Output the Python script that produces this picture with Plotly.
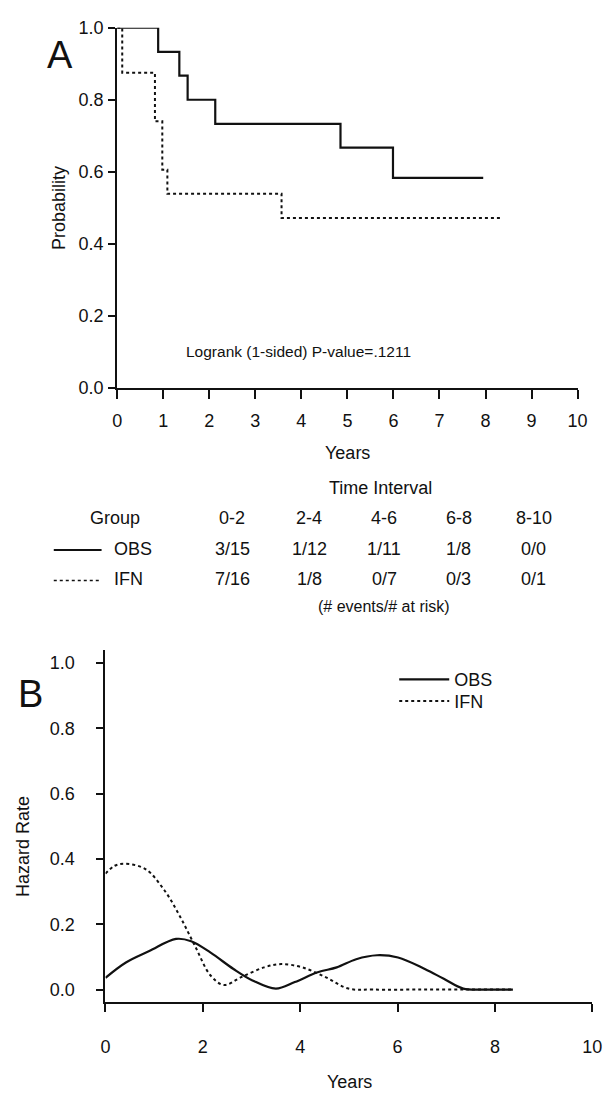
import plotly.graph_objects as go

W, H = 612, 1101

# ---------------- data ----------------
# Panel A: Kaplan-Meier estimates (step curves)
km_obs_t = [0, 0.89, 1.35, 1.53, 2.13, 4.85, 5.99, 7.95]
km_obs_s = [1.0, 0.933, 0.867, 0.800, 0.733, 0.667, 0.583, 0.583]
km_ifn_t = [0, 0.11, 0.82, 0.98, 1.09, 3.57, 8.32]
km_ifn_s = [1.0, 0.875, 0.740, 0.606, 0.539, 0.472, 0.472]

# Risk table
intervals = ["0-2", "2-4", "4-6", "6-8", "8-10"]
obs_counts = ["3/15", "1/12", "1/11", "1/8", "0/0"]
ifn_counts = ["7/16", "1/8", "0/7", "0/3", "0/1"]
groups = ["OBS", "IFN"]

# Panel B: smoothed hazard rates
hz_obs_t = [0, 0.42, 0.90, 1.45, 1.76, 2.16, 2.63, 3.02, 3.50, 3.89, 4.36, 4.75,
            5.15, 5.58, 6.01, 6.56, 6.95, 7.35, 7.8, 8.37]
hz_obs_h = [0.036, 0.083, 0.118, 0.155, 0.148, 0.113, 0.063, 0.028, 0.003, 0.023,
            0.053, 0.068, 0.093, 0.105, 0.098, 0.063, 0.033, 0.003, 0.0, 0.0]
hz_ifn_t = [0, 0.19, 0.40, 0.82, 1.21, 1.53, 1.84, 2.16, 2.43, 2.79, 3.26, 3.61,
            4.04, 4.52, 4.99, 5.5, 6.5, 7.5, 8.35]
hz_ifn_h = [0.355, 0.379, 0.385, 0.369, 0.304, 0.224, 0.133, 0.043, 0.014, 0.038,
            0.068, 0.078, 0.068, 0.038, 0.003, 0.0, 0.0, 0.0, 0.0]

xticksA = list(range(0, 11))
yticks = [0.0, 0.2, 0.4, 0.6, 0.8, 1.0]
yticklabels = ["0.0", "0.2", "0.4", "0.6", "0.8", "1.0"]
xticksB = [0, 2, 4, 6, 8, 10]

FONT = "Liberation Sans, Arial, Helvetica, sans-serif"
INK = "#111111"


def px(x):
    return x / W


def py(y):
    return 1 - y / H


fig = go.Figure()

# Panel A traces
fig.add_trace(go.Scatter(x=km_obs_t, y=km_obs_s, mode="lines", line_shape="hv",
                         line=dict(color=INK, width=2.2), showlegend=False,
                         xaxis="x", yaxis="y"))
fig.add_trace(go.Scatter(x=km_ifn_t, y=km_ifn_s, mode="lines", line_shape="hv",
                         line=dict(color=INK, width=2, dash="dot"), showlegend=False,
                         xaxis="x", yaxis="y"))

# Panel B traces (each in its own legend box so the two rows can be placed)
fig.add_trace(go.Scatter(x=hz_obs_t, y=hz_obs_h, mode="lines", line_shape="spline",
                         line=dict(color=INK, width=2.2, smoothing=1.0), name=groups[0],
                         xaxis="x2", yaxis="y2", legend="legend"))
fig.add_trace(go.Scatter(x=hz_ifn_t, y=hz_ifn_h, mode="lines", line_shape="spline",
                         line=dict(color=INK, width=2, dash="dot", smoothing=1.0),
                         name=groups[1], xaxis="x2", yaxis="y2", legend="legend2"))

axis_common = dict(showline=True, linecolor=INK, linewidth=2, ticks="outside",
                   tickcolor=INK, tickwidth=2, showgrid=False, zeroline=False,
                   tickfont=dict(family=FONT, size=18, color=INK))

legend_common = dict(xanchor="left", yanchor="middle",
                     font=dict(family=FONT, size=18, color=INK),
                     bgcolor="rgba(0,0,0,0)", itemwidth=50, tracegroupgap=0)

fig.update_layout(
    width=W, height=H, margin=dict(l=0, r=0, t=0, b=0),
    paper_bgcolor="white", plot_bgcolor="white",
    font=dict(family=FONT, size=18, color=INK),
    xaxis=dict(domain=[px(115), px(587)], range=[0, 10], tickvals=xticksA,
               ticklen=9, ticklabelstandoff=6, anchor="y", **axis_common),
    yaxis=dict(domain=[py(385), py(18)], range=[0, 1], tickvals=yticks,
               ticktext=yticklabels, ticklen=7, ticklabelstandoff=1, anchor="x",
               **axis_common),
    xaxis2=dict(domain=[px(103), px(602)], range=[0, 10], tickvals=xticksB,
                ticklen=8, ticklabelstandoff=20, anchor="y2", **axis_common),
    yaxis2=dict(domain=[py(1010), py(652)], range=[-0.037, 1.039], tickvals=yticks,
                ticktext=yticklabels, ticklen=7, ticklabelstandoff=18, anchor="x2",
                **axis_common),
    legend=dict(x=px(399), y=py(682), **legend_common),
    legend2=dict(x=px(399), y=py(704), **legend_common),
)

ann = []


def text(x, y, s, size=18, xanchor="center", angle=0):
    ann.append(dict(x=px(x), y=py(y), xref="paper", yref="paper", text=s,
                    showarrow=False, xanchor=xanchor, yanchor="middle", textangle=angle,
                    font=dict(family=FONT, size=size, color=INK)))


# Panel labels and titles
text(56, 46, "A", size=38)
text(26, 697, "B", size=38)
text(56, 202, "Probability", angle=-90)
text(351, 451, "Years")
text(18, 852, "Hazard Rate", angle=-90)
text(353, 1092, "Years")
text(301, 348, "Logrank (1-sided) P-value=.1211", size=15.5)

# Risk table
col_x = [233, 312, 389, 465, 542]
text(385, 487, "Time Interval")
text(113, 517, "Group")
for cx, lab, o, i in zip(col_x, intervals, obs_counts, ifn_counts):
    text(cx, 517, lab)
    text(cx, 549, o)
    text(cx, 580, i)
text(110, 549, groups[0], xanchor="left")
text(110, 580, groups[1], xanchor="left")
text(389, 608, "(# events/# at risk)", size=16)

fig.update_layout(annotations=ann)

fig.add_shape(type="line", xref="paper", yref="paper", x0=px(50), x1=px(99),
              y0=py(550), y1=py(550), line=dict(color=INK, width=1.8))
fig.add_shape(type="line", xref="paper", yref="paper", x0=px(50), x1=px(99),
              y0=py(581), y1=py(581), line=dict(color=INK, width=1.6, dash="dot"))

fig.write_html("out.html")
